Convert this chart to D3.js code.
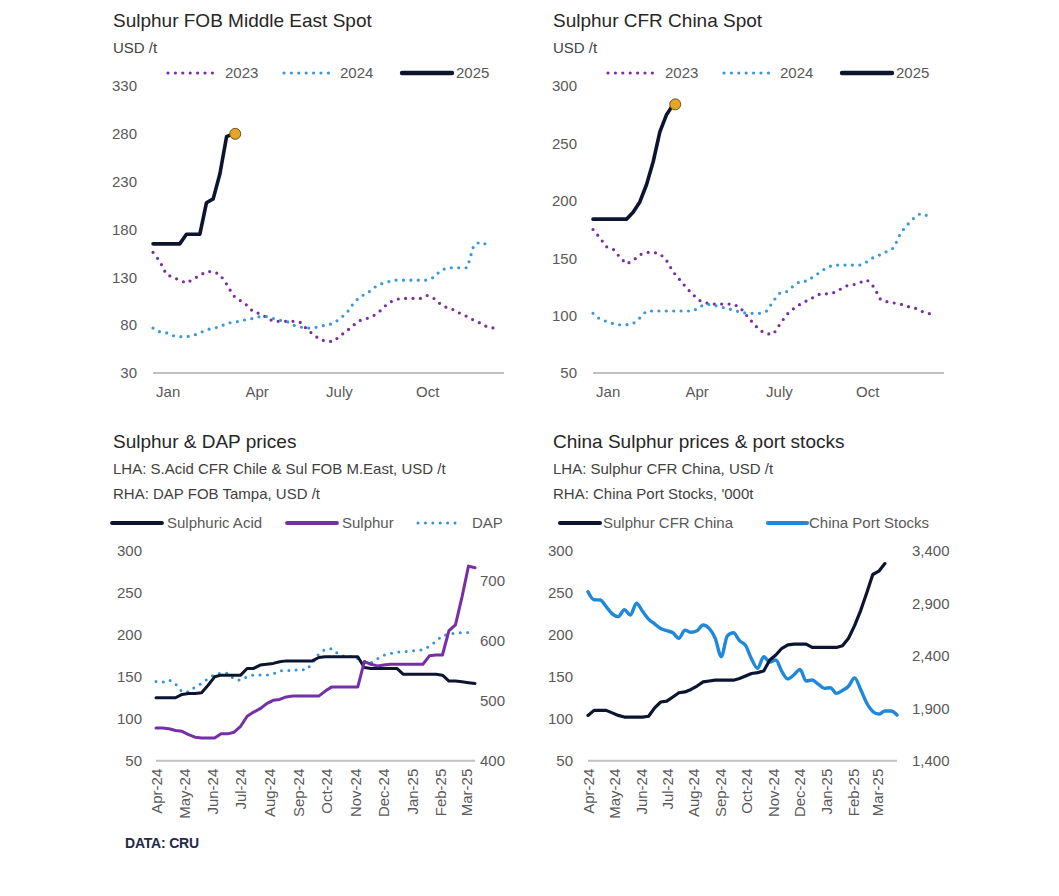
<!DOCTYPE html>
<html><head><meta charset="utf-8">
<script src="https://cdn.jsdelivr.net/npm/d3@7"></script>
<style>body{margin:0;background:#fff} svg{display:block}</style>
</head><body><svg id="c" width="1059" height="896"></svg>
<script>
// ---------- DATA ----------
const topTickLabels = ["Jan", "Apr", "July", "Oct"];
const topTickWeeks = [2.2, 15.5, 27.8, 41.0];
const yearLabels = ["2023", "2024", "2025"];

const meSpot2023 = [156,147,133,130,127,124,128,132,136,136,133,123,111,106,101,94,92,88,84,84,84,84,83,76,70,65,63,63,69,74,80,85,87,90,95,102,106,108,108,108,108,111,108,102,98,96,92,89,85,82,78,77];
const meSpot2024 = [77,73,72,69,68,68,69,72,75,77,78,82,83,84,86,87,89,89,87,85,84,80,78,77,77,79,80,82,87,93,103,110,113,119,123,125,127,127,127,127,127,127,130,137,140,140,140,140,164,167,164];
const meSpot2025 = [165,165,165,165,165,175,175,175,208,212,238,277,280];
const meTicks = [30,80,130,180,230,280,330];

const cnSpot2023 = [175,168,160,158,151,145,148,153,155,155,154,148,138,131,124,118,113,111,110,110,110,110,107,100,93,87,84,84,93,101,106,110,113,116,119,119,120,123,126,127,129,131,125,114,112,111,110,108,107,104,102,101];
const cnSpot2024 = [102,97,95,93,92,92,93,98,104,104,104,104,104,104,104,104,108,110,109,108,106,105,103,102,102,102,104,113,120,121,126,130,130,134,138,142,144,144,144,144,144,147,151,153,156,159,172,179,185,189,187];
const cnSpot2025 = [184,184,184,184,184,184,190,199,214,234,260,275,284];
const cnTicks = [50,100,150,200,250,300];

// weekly series starting first week of April 2024
const weekStart = new Date(2024, 3, 1);
const sulphuricAcid = [125,125,125,125,129,130,130,131,140,150,152,152,152,152,160,160,164,165,166,168,169,169,169,169,169,173,174,174,174,174,174,174,161,160,160,160,160,160,153,153,153,153,153,153,152,145,145,144,143,142];
const sulphurME = [89,89,88,86,85,81,78,77,77,77,82,82,84,91,103,108,112,118,122,123,126,127,127,127,127,127,133,138,138,138,138,138,168,165,163,164,165,165,165,165,165,165,175,176,176,205,212,245,282,280];
const dapTampa = [532,531,535,528,515,515,523,529,537,544,546,546,536,534,540,543,543,543,545,550,551,550,553,551,562,578,586,587,578,574,574,570,566,563,570,576,579,581,582,583,584,585,591,599,609,611,613,614,614];
const leftTicksBottom = [50,100,150,200,250,300];
const dapTicks = [400,500,600,700];

const sulphurCFRChina = [104,110,110,110,107,104,102,102,102,102,103,113,120,121,126,131,132,135,139,144,145,146,146,146,146,148,151,154,155,157,170,176,184,188,189,189,189,185,185,185,185,185,187,196,211,229,250,272,276,285];
const chinaPortStocks = [3012,2935,2933,2870,2800,2774,2840,2790,2901,2825,2750,2705,2660,2640,2620,2567,2645,2625,2640,2694,2662,2567,2392,2590,2620,2545,2500,2370,2281,2392,2340,2360,2250,2180,2220,2270,2160,2170,2130,2090,2096,2042,2070,2110,2190,2080,1950,1870,1845,1874,1874,1836];
const stockTicks = [1400,1900,2400,2900,3400];

// ---------- STYLE ----------
const FONT = '"Liberation Sans", Arial, Helvetica, sans-serif';
const FS = 15, TS = 19;
const C = {
  title: "#262626", sub: "#3f3f3f", tick: "#595959", axis: "#c0c0c0",
  purple: "#7a2e9a", blue: "#3a98d8", navy: "#0c1430", gold: "#e3a626",
  sulphur: "#7530a8", dap: "#3493d6", stocks: "#2088da"
};
const DOT = "0 7.4";

const svg = d3.select("#c");

function txt(x, y, s, size, color, anchor) {
  return svg.append("text").attr("x", x).attr("y", y).text(s)
    .attr("font-family", FONT).attr("font-size", size)
    .attr("fill", color).attr("text-anchor", anchor || "start");
}
function legendItem(x1, x2, y, style, label, tx) {
  const l = svg.append("line").attr("x1", x1).attr("x2", x2).attr("y1", y).attr("y2", y)
    .attr("stroke", style.color).attr("stroke-width", style.dash ? style.width : style.width + 0.8)
    .attr("stroke-linecap", "round");
  if (style.dash) l.attr("stroke-dasharray", style.dash);
  txt(tx, y + 5, label, FS, C.tick);
}
function drawLine(g, data, xf, yf, style) {
  const line = d3.line().x((d, i) => xf(i)).y(d => yf(d));
  if (style.curve) line.curve(style.curve);
  const p = g.append("path").datum(data).attr("d", line)
    .attr("fill", "none").attr("stroke", style.color).attr("stroke-width", style.width)
    .attr("stroke-linejoin", "round").attr("stroke-linecap", "round");
  if (style.dash) p.attr("stroke-dasharray", style.dash);
  return p;
}
function styleAxis(sel) {
  sel.select(".domain").remove();
  sel.attr("font-family", FONT).attr("font-size", FS).attr("color", C.tick);
  sel.selectAll("text").attr("fill", C.tick);
}

// ---------- TOP PANELS ----------
function topPanel(o) {
  const g = svg.append("g");
  const x = d3.scaleLinear().domain([0, 51]).range([o.x0, o.x0 + 341]);
  const y = d3.scaleLinear().domain([o.ticks[0], o.ticks[o.ticks.length - 1]]).range([373, 86]);

  txt(o.tx, 27, o.title, TS, C.title);
  txt(o.tx, 53, "USD /t", FS, C.sub);

  g.append("g").attr("transform", `translate(${o.x0 - 16},0)`)
    .call(d3.axisLeft(y).tickValues(o.ticks).tickSize(0).tickPadding(0)).call(styleAxis);

  g.append("line").attr("x1", o.x0).attr("x2", o.x0 + 351)
    .attr("y1", y(o.ticks[0])).attr("y2", y(o.ticks[0]))
    .attr("stroke", C.axis).attr("stroke-width", 2);

  g.append("g").attr("transform", `translate(0,${y(o.ticks[0])})`)
    .call(d3.axisBottom(x).tickValues(topTickWeeks).tickFormat((d, i) => topTickLabels[i]).tickSize(0).tickPadding(13))
    .call(styleAxis);

  const s23 = { color: C.purple, width: 3.2, dash: DOT };
  const s24 = { color: C.blue, width: 3.2, dash: DOT };
  const s25 = { color: C.navy, width: 3.6 };
  drawLine(g, o.d23, x, y, s23);
  drawLine(g, o.d24, x, y, s24);
  drawLine(g, o.d25, x, y, s25);
  const last = o.d25.length - 1;
  g.append("circle").attr("cx", x(last) + 2).attr("cy", y(o.d25[last]))
    .attr("r", 5.5).attr("fill", C.gold).attr("stroke", "#6e5518").attr("stroke-width", 1);

  const lx = o.x0 + 15;
  legendItem(lx, lx + 50, 73, s23, yearLabels[0], lx + 57);
  legendItem(lx + 116, lx + 165, 73, s24, yearLabels[1], lx + 172);
  legendItem(lx + 234, lx + 284, 73, s25, yearLabels[2], lx + 288);
}

topPanel({ x0: 153, tx: 113, title: "Sulphur FOB Middle East Spot", ticks: meTicks, d23: meSpot2023, d24: meSpot2024, d25: meSpot2025 });
topPanel({ x0: 593, tx: 553, title: "Sulphur CFR China Spot", ticks: cnTicks, d23: cnSpot2023, d24: cnSpot2024, d25: cnSpot2025 });

// ---------- BOTTOM PANELS ----------
const fmtMonth = d3.timeFormat("%b-%y");
const dateOf = i => d3.timeDay.offset(weekStart, 7 * i);
const monthTicks = d3.timeMonth.range(new Date(2024, 3, 1), new Date(2025, 3, 1));

function bottomPanel(o) {
  const g = svg.append("g");
  const x = d3.scaleTime().domain([weekStart, dateOf(o.nWeeks - 1)]).range([o.x0, o.x1]);
  const yL = d3.scaleLinear().domain([50, 300]).range([760.7, 551]);
  const yR = d3.scaleLinear().domain(o.rDomain).range([760.7, 551]);

  txt(o.tx, 448, o.title, TS, C.title);
  txt(o.tx, 474, o.sub1, FS, C.sub);
  txt(o.tx, 499, o.sub2, FS, C.sub);

  g.append("g").attr("transform", `translate(${o.lRight},0)`)
    .call(d3.axisLeft(yL).tickValues(leftTicksBottom).tickSize(0).tickPadding(0)).call(styleAxis);
  g.append("g").attr("transform", `translate(${o.rLeft},0)`)
    .call(d3.axisRight(yR).tickValues(o.rTicks).tickSize(0).tickPadding(0).tickFormat(d3.format(",")))
    .call(styleAxis);

  g.append("line").attr("x1", o.x0).attr("x2", o.x1).attr("y1", 760.7).attr("y2", 760.7)
    .attr("stroke", C.axis).attr("stroke-width", 2);

  const xa = g.append("g").attr("transform", "translate(0,760.7)")
    .call(d3.axisBottom(x).tickValues(monthTicks).tickFormat(fmtMonth).tickSize(0))
    .call(styleAxis);
  xa.selectAll("text").attr("transform", "rotate(-90)").attr("text-anchor", "end")
    .attr("x", -8).attr("y", 0).attr("dy", "0.35em");

  const xf = i => x(dateOf(i));
  o.series.forEach(s => drawLine(g, s.data, xf, s.axis === "R" ? yR : yL, s.style));
  o.legend.forEach(l => legendItem(l.x1, l.x2, 523, l.style, l.label, l.tx));
}

const acidStyle = { color: C.navy, width: 3 };
const sulStyle = { color: C.sulphur, width: 3 };
const dapStyle = { color: C.dap, width: 3, dash: DOT };
bottomPanel({
  x0: 156, x1: 475, nWeeks: sulphurME.length, tx: 113, lRight: 142, rLeft: 480,
  title: "Sulphur & DAP prices",
  sub1: "LHA: S.Acid CFR Chile & Sul FOB M.East, USD /t",
  sub2: "RHA: DAP FOB Tampa, USD /t",
  rDomain: [400, 750], rTicks: dapTicks,
  series: [
    { data: dapTampa, axis: "R", style: dapStyle },
    { data: sulphuricAcid, axis: "L", style: acidStyle },
    { data: sulphurME, axis: "L", style: sulStyle }
  ],
  legend: [
    { x1: 112, x2: 162, tx: 167, style: acidStyle, label: "Sulphuric Acid" },
    { x1: 287, x2: 337, tx: 342, style: sulStyle, label: "Sulphur" },
    { x1: 418, x2: 462, tx: 472, style: dapStyle, label: "DAP" }
  ]
});

const cfrStyle = { color: C.navy, width: 3.2 };
const stockStyle = { color: C.stocks, width: 3.4, curve: d3.curveMonotoneX };
bottomPanel({
  x0: 588, x1: 897, nWeeks: chinaPortStocks.length, tx: 553, lRight: 573, rLeft: 912,
  title: "China Sulphur prices & port stocks",
  sub1: "LHA: Sulphur CFR China, USD /t",
  sub2: "RHA: China Port Stocks, '000t",
  rDomain: [1400, 3400], rTicks: stockTicks,
  series: [
    { data: chinaPortStocks, axis: "R", style: stockStyle },
    { data: sulphurCFRChina, axis: "L", style: cfrStyle }
  ],
  legend: [
    { x1: 560, x2: 600, tx: 603, style: cfrStyle, label: "Sulphur CFR China" },
    { x1: 768, x2: 807, tx: 809, style: stockStyle, label: "China Port Stocks" }
  ]
});

txt(125, 848, "DATA: CRU", 14, "#1f2a48").attr("font-weight", "bold").attr("letter-spacing", "-0.2");
</script>
</body></html>
